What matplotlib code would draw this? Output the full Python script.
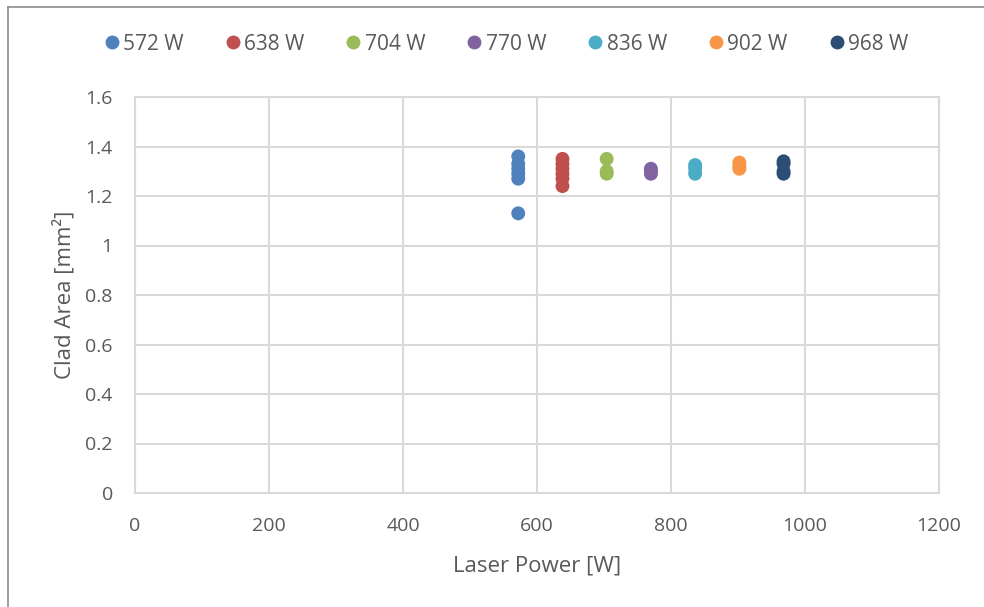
import matplotlib
matplotlib.use("Agg")
import matplotlib.pyplot as plt
from matplotlib.lines import Line2D

plt.rcParams['font.family'] = ['Open Sans', 'DejaVu Sans']

labels = ["572 W", "638 W", "704 W", "770 W", "836 W", "902 W", "968 W"]
powers = [572, 638, 704, 770, 836, 902, 968]
colors = ["#4F81BD", "#C0504D", "#9BBB59", "#8064A2", "#4BACC6", "#F79646", "#2C4D75"]

area_572 = [1.36, 1.33, 1.31, 1.29, 1.27, 1.13]
area_638 = [1.35, 1.33, 1.31, 1.29, 1.27, 1.24]
area_704 = [1.35, 1.30, 1.29]
area_770 = [1.31, 1.30, 1.29]
area_836 = [1.325, 1.31, 1.29]
area_902 = [1.335, 1.32, 1.31]
area_968 = [1.34, 1.33, 1.30, 1.29]
areas = [area_572, area_638, area_704, area_770, area_836, area_902, area_968]

xticks = [0, 200, 400, 600, 800, 1000, 1200]
yticks = [0, 0.2, 0.4, 0.6, 0.8, 1, 1.2, 1.4, 1.6]
ytick_labels = ["0", "0.2", "0.4", "0.6", "0.8", "1", "1.2", "1.4", "1.6"]

W, H = 984, 607
fig = plt.figure(figsize=(W / 100, H / 100), dpi=100)
ax = fig.add_axes([135 / W, 1 - 493 / H, (939 - 135) / W, (493 - 97) / H])

text_col = "#595959"
grid_col = "#D9D9D9"

for p, a, c, lab in zip(powers, areas, colors, labels):
    ax.scatter([p] * len(a), a, s=100, color=c, edgecolors="none", zorder=3, label=lab)

ax.set_xlim(0, 1200)
ax.set_ylim(0, 1.6)
ax.set_xticks(xticks)
ax.set_yticks(yticks)
ax.set_yticklabels(ytick_labels)
ax.grid(True, color=grid_col, linewidth=1.5, zorder=0)
for s in ax.spines.values():
    s.set_color(grid_col)
    s.set_linewidth(1.5)
ax.tick_params(axis="x", length=0, labelsize=14, colors=text_col, pad=17)
ax.tick_params(axis="y", length=0, labelsize=14, colors=text_col, pad=16)
ax.set_xlabel("Laser Power [W]", fontsize=16, color=text_col, labelpad=15)
ax.set_ylabel("Clad Area [mm²]", fontsize=16, color=text_col, labelpad=7)

handles = [Line2D([], [], marker="o", linestyle="none", markersize=10,
                  markerfacecolor=c, markeredgecolor="none") for c in colors]
fig.legend(handles, labels, loc="center", bbox_to_anchor=(0.513, 1 - 44 / H), ncol=7,
           frameon=False, fontsize=15, labelcolor=text_col, handletextpad=0.05,
           handlelength=1.0, columnspacing=1.85)

# chart frame
fig.add_artist(Line2D([8 / W, 8 / W], [0, 1 - 7 / H], color="#8C8C8C", linewidth=1.2,
                      transform=fig.transFigure))
fig.add_artist(Line2D([8 / W, 1], [1 - 7 / H, 1 - 7 / H], color="#8C8C8C", linewidth=1.2,
                      transform=fig.transFigure))

fig.savefig("out.png", dpi=100, facecolor="white")
